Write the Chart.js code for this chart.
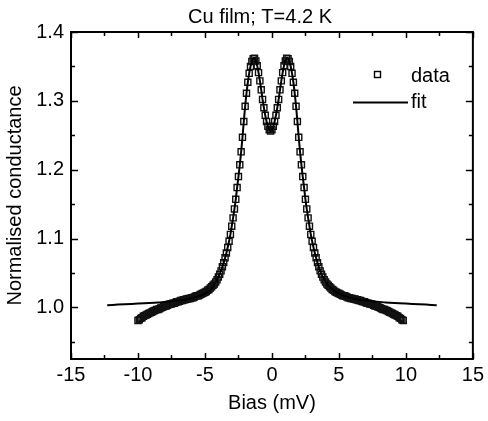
<!DOCTYPE html>
<html>
<head>
<meta charset="utf-8">
<script src="https://cdn.jsdelivr.net/npm/chart.js@4/dist/chart.umd.min.js"></script>
<style>
html,body{margin:0;padding:0;background:#fff;}
#c{display:block;}
</style>
</head>
<body>
<canvas id="c" width="488" height="421"></canvas>
<script>
const chartTitle = "Cu film; T=4.2 K";
const xTitle = "Bias (mV)";
const yTitle = "Normalised conductance";
const legendLabels = ["data", "fit"];

const xTicks = [-15, -10, -5, 0, 5, 10, 15];
const xMinorTicks = [-12.5, -7.5, -2.5, 2.5, 7.5, 12.5];
const yTicks = [1.0, 1.1, 1.2, 1.3, 1.4];
const yMinorTicks = [0.95, 1.05, 1.15, 1.25, 1.35];

const biasData = [
-10.0,-9.9,-9.8,-9.7,-9.6,-9.5,-9.4,-9.3,-9.2,-9.1,-9.0,-8.9,-8.8,-8.7,-8.6,-8.5,-8.4,-8.3,-8.2,-8.1,
-8.0,-7.9,-7.8,-7.7,-7.6,-7.5,-7.4,-7.3,-7.2,-7.1,-7.0,-6.9,-6.8,-6.7,-6.6,-6.5,-6.4,-6.3,-6.2,-6.1,
-6.0,-5.9,-5.8,-5.7,-5.6,-5.5,-5.4,-5.3,-5.2,-5.1,-5.0,-4.9,-4.8,-4.7,-4.6,-4.5,-4.4,-4.3,-4.2,-4.1,
-4.0,-3.9,-3.8,-3.7,-3.6,-3.5,-3.4,-3.3,-3.2,
-3.1,-3.0,-2.9,-2.8,-2.7,-2.6,-2.5,-2.4,-2.3,-2.2,-2.1,-2.0,-1.9,-1.8,-1.7,-1.6,-1.5,-1.4,-1.3,-1.2,-1.1,-1.0,-0.9,-0.8,-0.7,-0.6,-0.5,-0.4,-0.3,-0.2,-0.1,
0.0,0.1,0.2,0.3,0.4,0.5,0.6,0.7,0.8,0.9,1.0,1.1,1.2,1.3,1.4,1.5,1.6,1.7,1.8,1.9,2.0,2.1,2.2,2.3,2.4,2.5,2.6,2.7,2.8,2.9,3.0,
3.1,3.2,3.3,3.4,3.5,3.6,3.7,3.8,3.9,4.0,4.1,4.2,4.3,4.4,4.5,4.6,4.7,4.8,4.9,5.0,
5.1,5.2,5.3,5.4,5.5,5.6,5.7,5.8,5.9,6.0,6.1,6.2,6.3,6.4,6.5,6.6,6.7,6.8,6.9,7.0,
7.1,7.2,7.3,7.4,7.5,7.6,7.7,7.8,7.9,8.0,8.1,8.2,8.3,8.4,8.5,8.6,8.7,8.8,8.9,9.0,
9.1,9.2,9.3,9.4,9.5,9.6,9.7,9.8
];
const condData = [
0.981,0.982,0.984,0.985,0.987,0.988,0.989,0.990,0.991,0.992,0.993,0.994,0.995,0.996,0.997,0.997,0.998,0.999,1.000,1.001,
1.002,1.002,1.003,1.004,1.005,1.005,1.006,1.006,1.007,1.008,1.008,1.009,1.010,1.010,1.011,1.011,1.012,1.012,1.013,1.013,
1.014,1.014,1.015,1.016,1.017,1.017,1.018,1.019,1.020,1.021,1.022,1.023,1.025,1.026,1.028,1.030,1.032,1.034,1.037,1.040,
1.044,1.048,1.053,1.059,1.065,1.072,1.079,1.087,1.096,
1.106,1.118,1.130,1.143,1.157,1.174,1.190,1.207,1.226,1.247,1.270,1.292,1.311,1.327,1.340,1.350,1.357,1.361,1.362,1.358,1.351,1.341,1.329,1.316,1.302,1.290,1.279,1.270,1.263,1.258,1.256,
1.258,1.263,1.270,1.279,1.290,1.302,1.316,1.329,1.341,1.351,1.358,1.362,1.361,1.357,1.350,1.340,1.327,1.311,1.292,1.270,1.247,1.226,1.207,1.190,1.174,1.157,1.143,1.130,1.118,1.106,1.096,
1.087,1.079,1.072,1.065,1.059,1.053,1.048,1.044,1.040,1.037,1.034,1.032,1.030,1.028,1.026,1.025,1.023,1.022,1.021,1.020,
1.019,1.018,1.017,1.017,1.016,1.015,1.014,1.014,1.013,1.013,1.012,1.012,1.011,1.011,1.010,1.010,1.009,1.008,1.008,1.007,
1.006,1.006,1.005,1.005,1.004,1.003,1.002,1.002,1.001,1.000,0.999,0.998,0.997,0.997,0.996,0.995,0.994,0.993,0.992,0.991,
0.990,0.989,0.988,0.987,0.985,0.984,0.982,0.981
];

const biasFit = [
-12.3,-11.5,-10.5,-9.5,-8.5,-7.5,-6.5,-5.5,-5.0,-4.6,-4.2,-3.8,-3.6,-3.4,-3.2,
-3.1,-3.0,-2.9,-2.8,-2.7,-2.6,-2.5,-2.4,-2.3,-2.2,-2.1,-2.0,-1.9,-1.8,-1.7,-1.6,-1.5,-1.4,-1.3,-1.2,-1.1,-1.0,-0.9,-0.8,-0.7,-0.6,-0.5,-0.4,-0.3,-0.2,-0.1,
0.0,0.1,0.2,0.3,0.4,0.5,0.6,0.7,0.8,0.9,1.0,1.1,1.2,1.3,1.4,1.5,1.6,1.7,1.8,1.9,2.0,2.1,2.2,2.3,2.4,2.5,2.6,2.7,2.8,2.9,3.0,
3.2,3.4,3.6,3.8,4.2,4.6,5.0,5.5,6.5,7.5,8.5,9.5,10.5,11.5,12.3
];
const condFit = [
1.003,1.004,1.005,1.006,1.007,1.009,1.011,1.016,1.020,1.025,1.037,1.053,1.065,1.079,1.096,
1.106,1.118,1.130,1.143,1.157,1.174,1.190,1.207,1.226,1.247,1.270,1.292,1.311,1.327,1.340,1.350,1.357,1.361,1.362,1.358,1.351,1.341,1.329,1.316,1.302,1.290,1.279,1.270,1.263,1.258,1.256,
1.258,1.263,1.270,1.279,1.290,1.302,1.316,1.329,1.341,1.351,1.358,1.362,1.361,1.357,1.350,1.340,1.327,1.311,1.292,1.270,1.247,1.226,1.207,1.190,1.174,1.157,1.143,1.130,1.118,1.106,1.096,
1.079,1.065,1.053,1.044,1.032,1.025,1.020,1.016,1.011,1.009,1.007,1.006,1.005,1.004,1.003
];

const FONT = "'Liberation Sans', Arial, Helvetica, sans-serif";

const framePlugin = {
  id: 'frame',
  afterDraw(chart) {
    const ctx = chart.ctx, a = chart.chartArea;
    const xs = chart.scales.x, ys = chart.scales.y;
    ctx.save();
    ctx.strokeStyle = '#000';
    ctx.lineWidth = 2;
    ctx.strokeRect(a.left, a.top, a.right - a.left, a.bottom - a.top);
    ctx.lineWidth = 1.5;
    ctx.beginPath();
    const tx = (v, len) => {
      const p = Math.round(xs.getPixelForValue(v)) + 0.5;
      ctx.moveTo(p, a.bottom); ctx.lineTo(p, a.bottom - len);
      ctx.moveTo(p, a.top); ctx.lineTo(p, a.top + len);
    };
    const ty = (v, len) => {
      const p = Math.round(ys.getPixelForValue(v)) + 0.5;
      ctx.moveTo(a.left, p); ctx.lineTo(a.left + len, p);
      ctx.moveTo(a.right, p); ctx.lineTo(a.right - len, p);
    };
    xTicks.forEach(v => tx(v, 6));
    xMinorTicks.forEach(v => tx(v, 4));
    yTicks.forEach(v => ty(v, 7));
    yMinorTicks.forEach(v => ty(v, 4));
    ctx.stroke();

    // title
    ctx.fillStyle = '#000';
    ctx.font = '20px ' + FONT;
    ctx.textAlign = 'center';
    ctx.textBaseline = 'alphabetic';
    ctx.fillText(chartTitle, 260, 23);

    // legend
    ctx.textAlign = 'left';
    ctx.lineWidth = 1.4;
    ctx.strokeRect(374.5, 71.5, 6, 6);
    ctx.fillText(legendLabels[0], 411, 82);
    ctx.lineWidth = 2;
    ctx.beginPath();
    ctx.moveTo(353, 102.5); ctx.lineTo(408, 102.5);
    ctx.stroke();
    ctx.fillText(legendLabels[1], 411, 108);
    ctx.restore();
  }
};

new Chart(document.getElementById('c'), {
  type: 'scatter',
  data: {
    datasets: [
      {
        label: legendLabels[1],
        data: biasFit.map((x, i) => ({x: x, y: condFit[i]})),
        showLine: true,
        borderColor: '#000',
        borderWidth: 2,
        pointRadius: 0,
        tension: 0.3,
        fill: false,
        order: 0
      },
      {
        label: legendLabels[0],
        data: biasData.map((x, i) => ({x: x, y: condData[i]})),
        showLine: false,
        pointStyle: 'rect',
        pointRadius: 4.3,
        borderColor: '#111',
        borderWidth: 1.4,
        backgroundColor: 'rgba(0,0,0,0)',
        order: 1
      }
    ]
  },
  options: {
    responsive: false,
    animation: false,
    layout: { padding: { top: 32, right: 12, left: 0, bottom: 0 } },
    plugins: { legend: { display: false }, tooltip: { enabled: false }, title: { display: false } },
    scales: {
      x: {
        type: 'linear',
        min: -15, max: 15,
        afterFit: s => { s.height = 62; },
        afterBuildTicks: s => { s.ticks = xTicks.map(v => ({value: v})); },
        grid: { display: false, drawTicks: false },
        border: { display: false },
        ticks: { padding: 4, color: '#000', font: { family: FONT, size: 20 }, callback: v => String(v), maxRotation: 0, autoSkip: false },
        title: { display: true, text: xTitle, color: '#000', font: { family: FONT, size: 20 }, padding: { top: 0, bottom: 6 } }
      },
      y: {
        type: 'linear',
        min: 0.925, max: 1.4,
        afterFit: s => { s.width = 71; },
        afterBuildTicks: s => { s.ticks = yTicks.map(v => ({value: v})); },
        grid: { display: false, drawTicks: false },
        border: { display: false },
        ticks: { padding: 7, color: '#000', font: { family: FONT, size: 20 }, callback: v => Number(v).toFixed(1), autoSkip: false },
        title: { display: true, text: yTitle, color: '#000', font: { family: FONT, size: 20 }, padding: { top: 3, bottom: 0 } }
      }
    }
  },
  plugins: [framePlugin]
});
</script>
</body>
</html>
